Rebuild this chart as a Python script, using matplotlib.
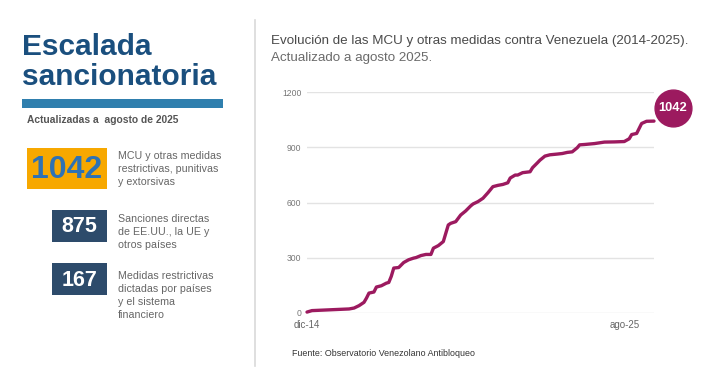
import matplotlib.pyplot as plt
import matplotlib.transforms as mtransforms
from matplotlib.patches import Rectangle

plt.rcParams["font.family"] = ["Liberation Sans", "DejaVu Sans"]

W, H = 710, 384

# months since dic-14 and cumulative number of measures
months = [0, 2, 17, 19, 21, 23, 24, 25, 27, 28, 30, 32, 33, 34, 35, 37, 39, 41, 43, 44,
          46, 48, 50, 51, 53, 55, 56, 57, 58, 60, 62, 64, 66, 67, 69, 71, 73, 75, 77, 79,
          81, 82, 84, 85, 87, 90, 91, 93, 94, 96, 98, 101, 103, 105, 107, 109, 110, 112, 116, 120,
          124, 128, 130, 131, 133, 135, 137, 140]
values = [5, 13, 22, 27, 40, 58, 81, 108, 114, 141, 148, 162, 166, 199, 244, 247, 274, 289, 298, 301,
          312, 318, 318, 352, 366, 388, 433, 478, 487, 496, 532, 554, 581, 592, 605, 623, 653, 686, 693, 698,
          707, 733, 749, 749, 762, 767, 789, 816, 830, 852, 859, 863, 866, 872, 875, 897, 913, 915, 920, 928,
          929, 931, 946, 969, 975, 1029, 1041, 1042]

x_ticks = [0, 128]
x_labels = ["dic-14", "ago-25"]
y_ticks = [0, 300, 600, 900, 1200]

totals = ["1042", "875", "167"]
descriptions = [
    "MCU y otras medidas\nrestrictivas, punitivas\ny extorsivas",
    "Sanciones directas\nde EE.UU., la UE y\notros países",
    "Medidas restrictivas\ndictadas por países\ny el sistema\nfinanciero",
]

BLUE_TITLE = "#1a4f7e"
LINE_COLOR = "#9c1a5f"


def fx(x):
    return x / W


def fy(y):
    return 1 - y / H


fig = plt.figure(figsize=(W / 100, H / 100), dpi=100)
fig.patch.set_facecolor("white")

# left panel
fig.text(fx(22), fy(55), "Escalada", fontsize=21.5, fontweight="bold", color=BLUE_TITLE)
fig.text(fx(22), fy(85), "sancionatoria", fontsize=21.5, fontweight="bold", color=BLUE_TITLE)
fig.patches.append(Rectangle((fx(22), fy(108)), fx(223) - fx(22), fy(99) - fy(108),
                             transform=fig.transFigure, color="#2f7fae", lw=0))
fig.text(fx(27), fy(123), "Actualizadas a  agosto de 2025", fontsize=7.4,
         fontweight="bold", color="#555555")

boxes = [(27, 148, 107, 189, "#f7a800", "#2e72b4", 23),
         (52, 210, 107, 242, "#2d4b6b", "white", 15.5),
         (52, 263, 107, 295, "#2d4b6b", "white", 15.5)]
desc_tops = [153, 216, 273]
for (x0, y0, x1, y1, face, tc, fs), total, desc, dt in zip(boxes, totals, descriptions, desc_tops):
    fig.patches.append(Rectangle((fx(x0), fy(y1)), fx(x1) - fx(x0), fy(y0) - fy(y1),
                                 transform=fig.transFigure, color=face, lw=0))
    fig.text(fx((x0 + x1) / 2), fy((y0 + y1) / 2 + 1), total, fontsize=fs, fontweight="bold",
             color=tc, ha="center", va="center")
    fig.text(fx(118), fy(dt - 2), desc, fontsize=7.7, color="#666666", va="top",
             linespacing=1.36)

# separator
fig.add_artist(plt.Line2D([fx(255), fx(255)], [fy(20), fy(366)], color="#d9d9d9", lw=1.2))

# chart titles
fig.text(fx(271), fy(44), "Evolución de las MCU y otras medidas contra Venezuela (2014-2025).",
         fontsize=9.6, color="#4a4a4a")
fig.text(fx(271), fy(61), "Actualizado a agosto 2025.", fontsize=9.6, color="#6a6a6a")
fig.text(fx(292), fy(356), "Fuente: Observatorio Venezolano Antibloqueo", fontsize=6.4,
         color="#333333")

# line chart
ax = fig.add_axes([fx(307), fy(313), fx(654) - fx(307), fy(92) - fy(313)])
for y in y_ticks:
    ax.axhline(y, color="#e3e3e3", lw=1, zorder=0)
ax.plot(months, values, color=LINE_COLOR, lw=2.4, solid_joinstyle="round",
        solid_capstyle="round", clip_on=False, zorder=3)
ax.set_xlim(0, 140)
ax.set_ylim(0, 1200)
ax.set_yticks(y_ticks)
ax.set_xticks(x_ticks)
ax.set_xticklabels(x_labels)
ax.tick_params(axis="y", left=False, length=0, pad=4, labelsize=6.2, labelcolor="#777777")
ax.tick_params(axis="x", bottom=False, length=0, pad=5, labelsize=7, labelcolor="#666666")
for spine in ax.spines.values():
    spine.set_visible(False)
ax.set_facecolor("none")

# end label bubble
offset = mtransforms.offset_copy(ax.transData, fig=fig, x=19 * 0.72, y=13 * 0.72, units="points")
ax.plot(months[-1], values[-1], "o", ms=26.5, color=LINE_COLOR, transform=offset,
        clip_on=False, zorder=4)
ax.text(months[-1], values[-1], str(values[-1]), transform=offset, ha="center", va="center",
        fontsize=9.3, fontweight="bold", color="white", clip_on=False, zorder=5)

fig.savefig("out.png", dpi=100)
